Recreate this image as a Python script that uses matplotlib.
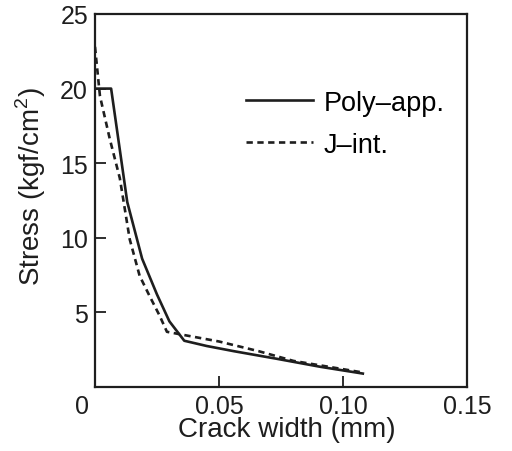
import matplotlib
matplotlib.use("Agg")
import matplotlib.pyplot as plt
import matplotlib.transforms as mtransforms

plt.rcParams['font.family'] = ['Liberation Sans', 'DejaVu Sans']
plt.rcParams['mathtext.fontset'] = 'custom'
plt.rcParams['mathtext.rm'] = 'Liberation Sans'

poly_x = [0.0, 0.0065, 0.013, 0.019, 0.025, 0.030, 0.036, 0.045, 0.056, 0.073, 0.091, 0.108]
poly_y = [20.0, 20.0, 12.4, 8.6, 6.2, 4.4, 3.1, 2.75, 2.4, 1.9, 1.35, 0.9]

jint_x = [0.0, 0.002, 0.006, 0.010, 0.014, 0.018, 0.022, 0.026, 0.029, 0.037, 0.050, 0.066, 0.080, 0.107]
jint_y = [22.8, 19.5, 16.6, 14.0, 9.9, 7.45, 6.1, 4.8, 3.7, 3.45, 3.05, 2.4, 1.75, 1.0]

xticks = [0, 0.05, 0.10, 0.15]
xticklabels = ['0', '0.05', '0.10', '0.15']
yticks = [5, 10, 15, 20, 25]
yticklabels = ['5', '10', '15', '20', '25']

ink = '#1e1e1e'

fig = plt.figure(figsize=(5.12, 4.52), dpi=100)
ax = fig.add_axes([95/512, 1 - 388/452, 372/512, 373/452])

ax.plot(poly_x, poly_y, color=ink, lw=1.9, label='Poly\u2013app.')
ax.plot(jint_x, jint_y, color=ink, lw=1.9, linestyle=(0, (2.4, 1.7)), label='J\u2013int.')

ax.set_xlim(0, 0.15)
ax.set_ylim(0, 25)
ax.set_xticks(xticks)
ax.set_xticklabels(xticklabels)
ax.set_yticks(yticks)
ax.set_yticklabels(yticklabels)
ax.tick_params(direction='in', length=8, width=1.3, labelsize=18, pad=5, colors=ink)
for s in ax.spines.values():
    s.set_linewidth(1.6)
    s.set_color(ink)

# shift the "0" label slightly left like in the reference
lbl0 = ax.get_xticklabels()[0]
lbl0.set_transform(lbl0.get_transform() + mtransforms.ScaledTranslation(-13/100, 0, fig.dpi_scale_trans))

ax.set_xlabel('Crack width (mm)', fontsize=20, color=ink)
ax.xaxis.set_label_coords(0.516, -0.078)
ax.set_ylabel('Stress (kgf/cm$^2$)', fontsize=20, color=ink)
ax.yaxis.set_label_coords(-0.126, 0.539)

ax.legend(loc='upper left', bbox_to_anchor=(0.405, 0.797), frameon=False, fontsize=19.5,
          handlelength=2.5, handletextpad=0.38, labelspacing=0.6, borderpad=0, borderaxespad=0)

fig.savefig('out.png', dpi=100)
